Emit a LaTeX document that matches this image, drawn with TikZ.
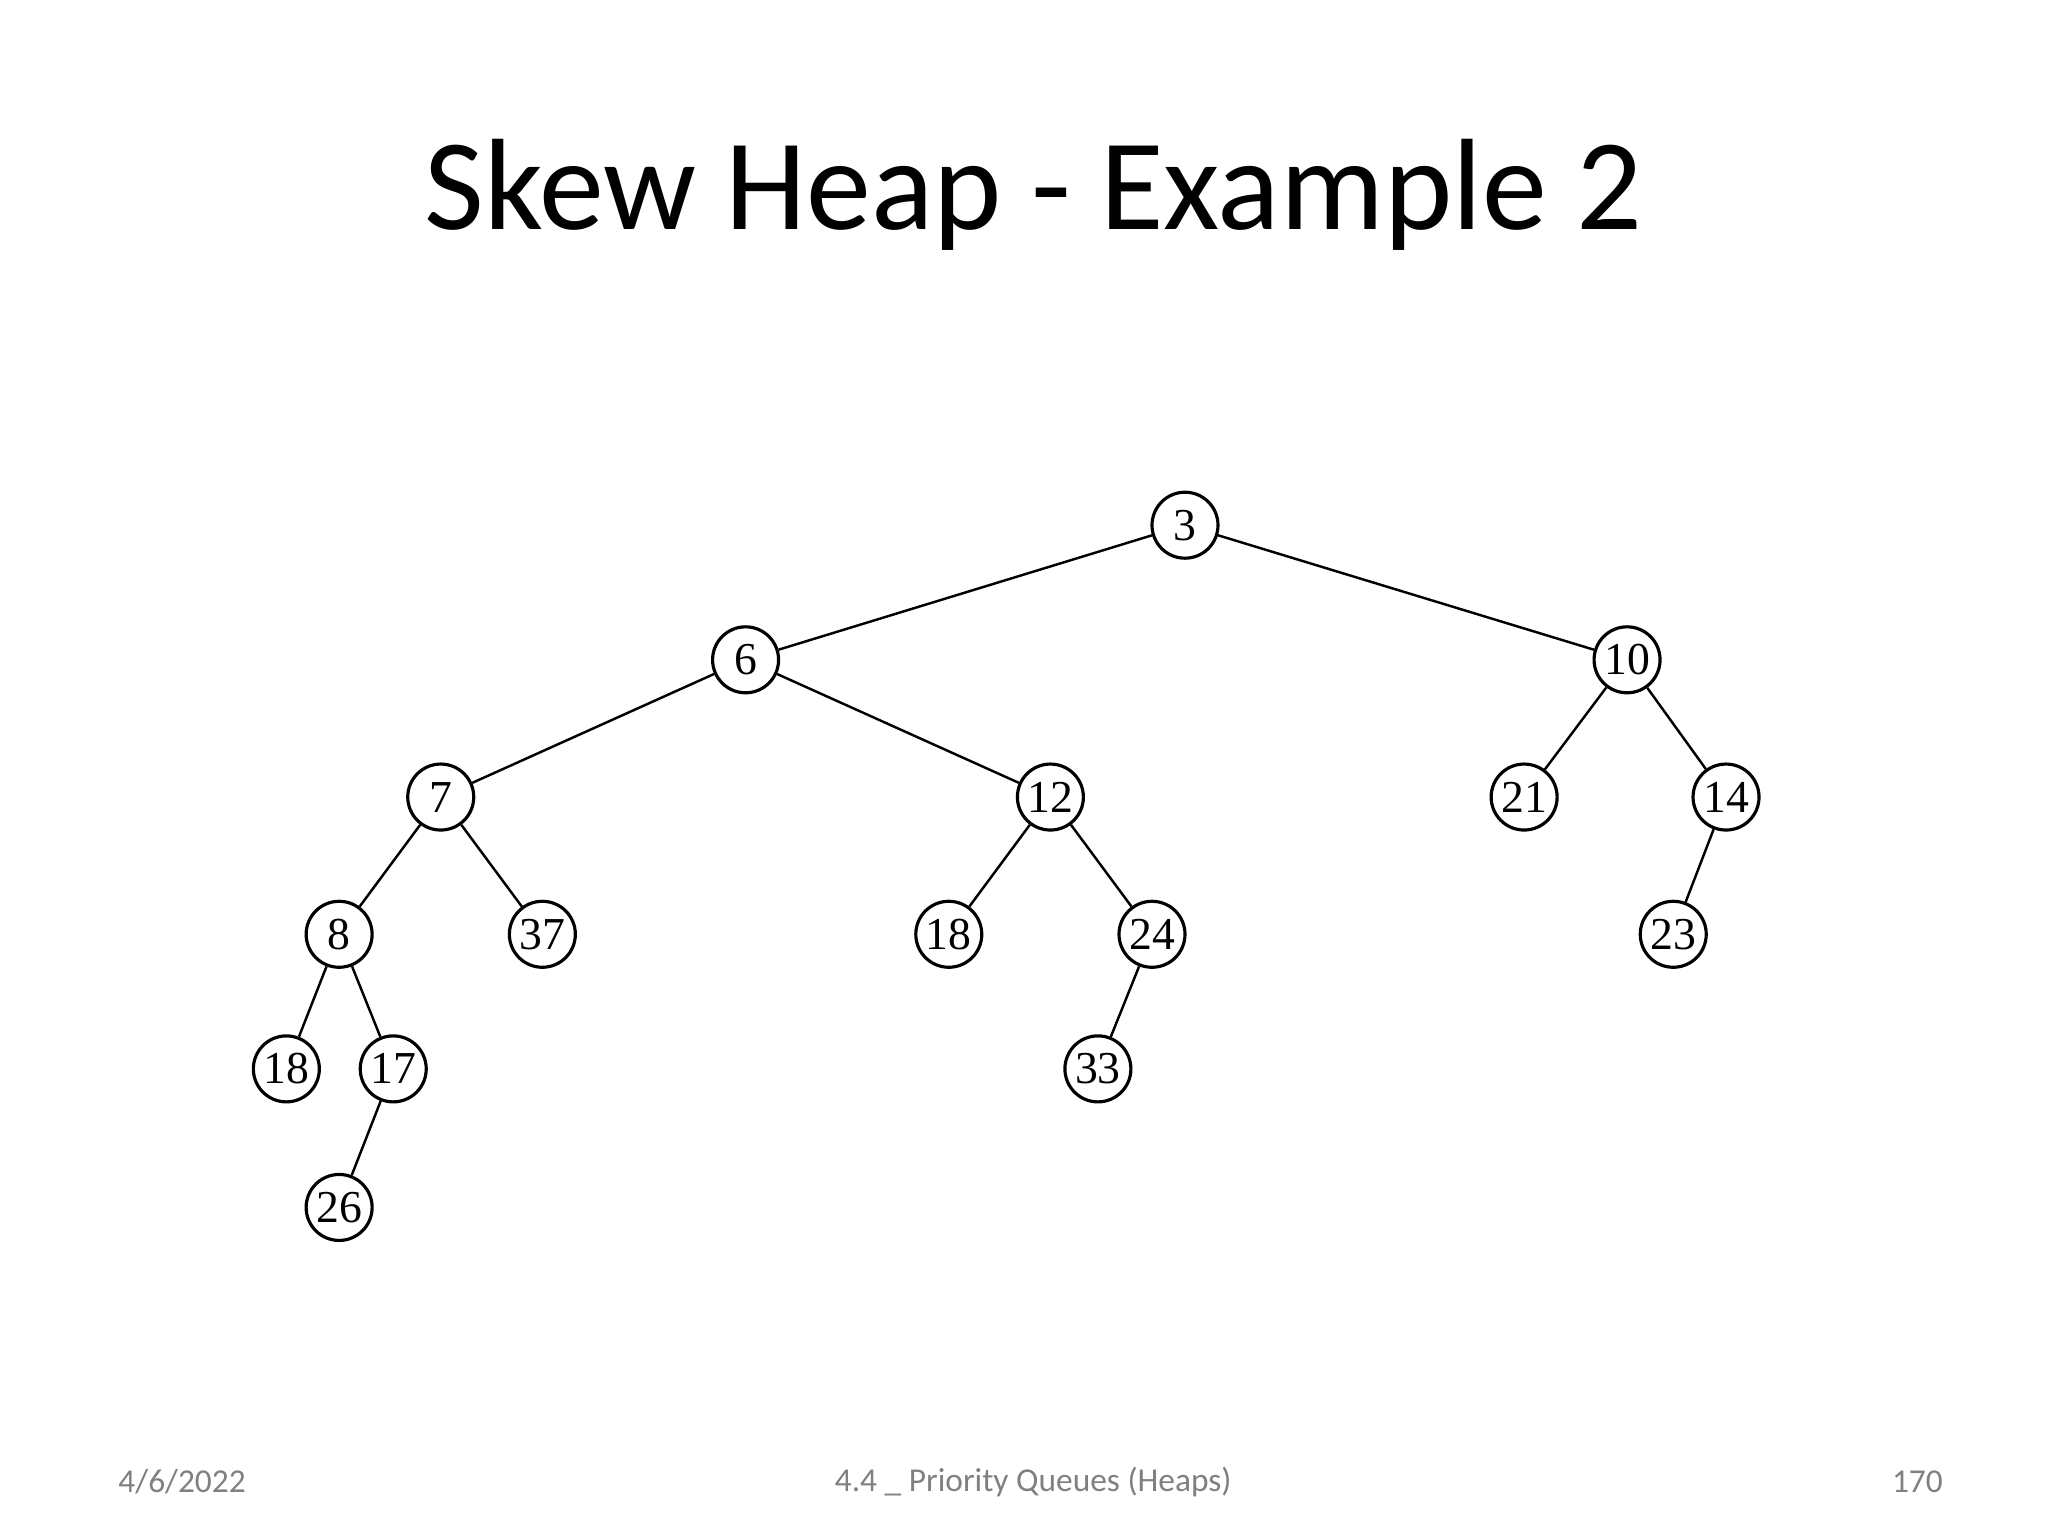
\documentclass[tikz,border=0pt]{standalone}
\usepackage{fontspec}
\setmainfont{Carlito}
\newfontfamily\nodefont{Liberation Serif}
\begin{document}
\begin{tikzpicture}[x=0.013196cm,y=-0.013196cm,
  hn/.style={circle,draw,line width=0.9pt,minimum size=0.66cm,inner sep=0pt,font=\nodefont\fontsize{13pt}{13pt}\selectfont},
  ed/.style={line width=0.7pt},
  foot/.style={text=gray,font=\fontsize{9.5pt}{10pt}\selectfont}]
\useasboundingbox (0,0) rectangle (1552,1164);
\node (title) at (783,148) {\fontsize{37pt}{40pt}\selectfont Skew Heap - Example 2};
\node[hn] (n3) at (898,398) {3};
\node[hn] (n6) at (565,500) {6};
\node[hn] (n10) at (1233,500) {10};
\node[hn] (n7) at (334,604) {7};
\node[hn] (n12) at (796,604) {12};
\node[hn] (n21) at (1155,604) {21};
\node[hn] (n14) at (1308,604) {14};
\node[hn] (n8) at (257,708) {8};
\node[hn] (n37) at (411,708) {37};
\node[hn] (n18b) at (719,708) {18};
\node[hn] (n24) at (873,708) {24};
\node[hn] (n23) at (1268,708) {23};
\node[hn] (n18a) at (217,810) {18};
\node[hn] (n17) at (298,810) {17};
\node[hn] (n33) at (832,810) {33};
\node[hn] (n26) at (257,915) {26};
\draw[ed] (n3)--(n6); \draw[ed] (n3)--(n10);
\draw[ed] (n6)--(n7); \draw[ed] (n6)--(n12);
\draw[ed] (n10)--(n21); \draw[ed] (n10)--(n14);
\draw[ed] (n7)--(n8); \draw[ed] (n7)--(n37);
\draw[ed] (n12)--(n18b); \draw[ed] (n12)--(n24);
\draw[ed] (n14)--(n23);
\draw[ed] (n8)--(n18a); \draw[ed] (n8)--(n17);
\draw[ed] (n24)--(n33);
\draw[ed] (n17)--(n26);
\node[foot] (date) at (138,1123) {4/6/2022};
\node[foot] (topic) at (783,1123) {4.4 \_ Priority Queues (Heaps)};
\node[foot] (page) at (1453,1123) {170};
\end{tikzpicture}
\end{document}
